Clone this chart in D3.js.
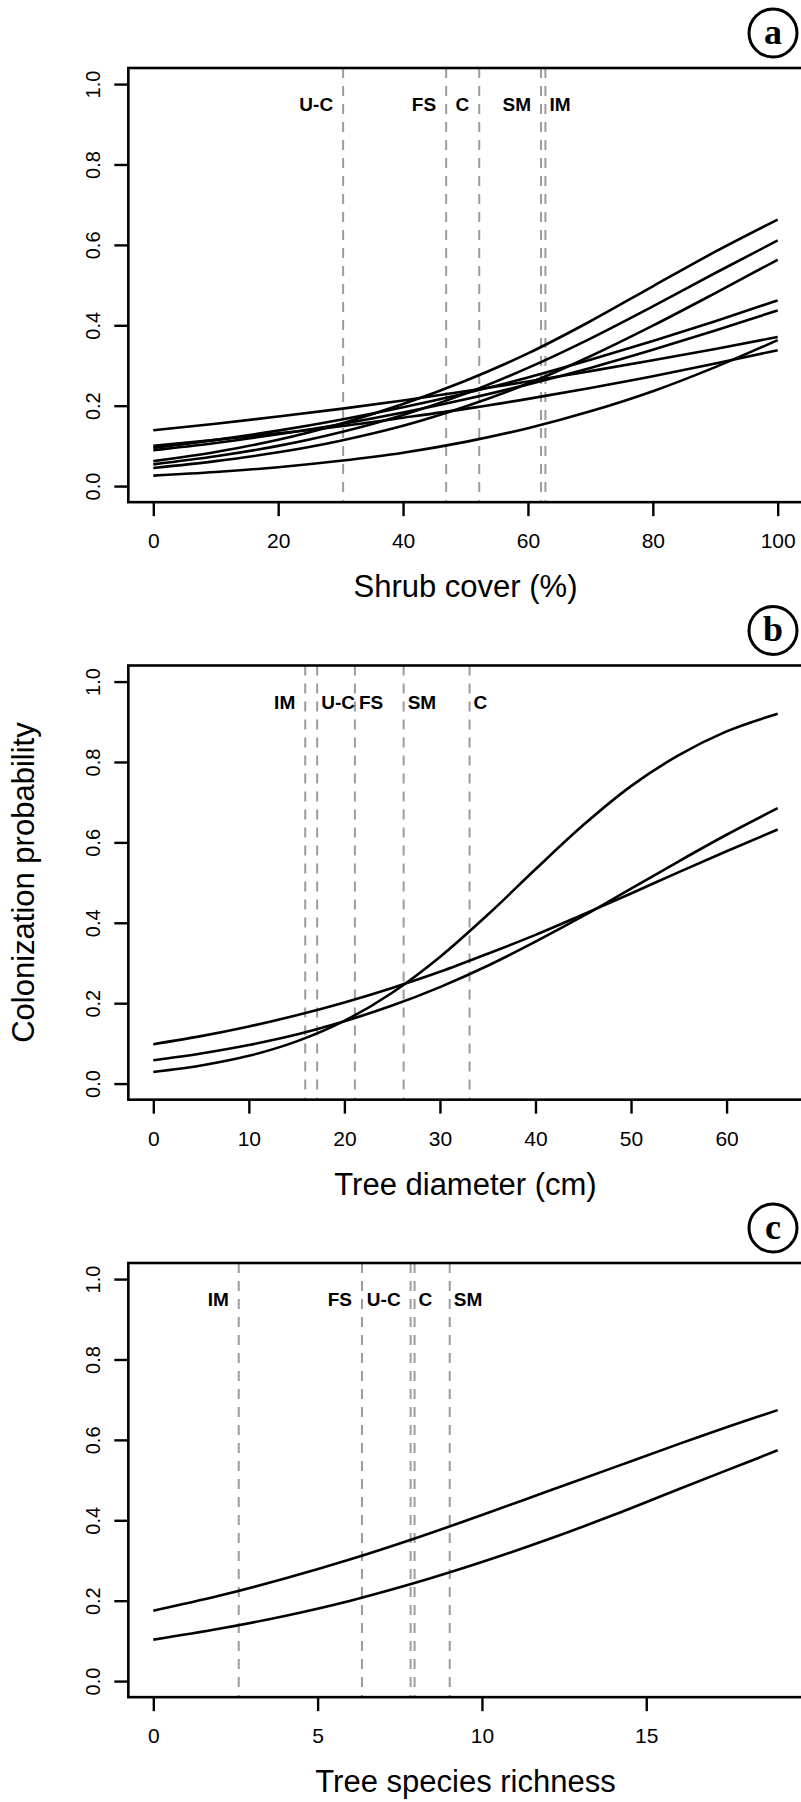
<!DOCTYPE html>
<html lang="en">
<head>
    <meta charset="UTF-8">
    <title>Colonization probability</title>
    <style type="text/css">
        body { margin: 0; background: white; }
        svg { display: block; }
        .tick text { font-family: "Liberation Sans", Arial, sans-serif; font-size: 21px; fill: black; }
        .y-ticks .tick text { font-size: 20px; }
        .guide-label { font-family: "Liberation Sans", Arial, sans-serif; font-size: 19px; font-weight: bold; }
        .axis-title { font-family: "Liberation Sans", Arial, sans-serif; font-size: 31px; }
        .panel-letter { font-family: "Liberation Serif", "Times New Roman", serif; font-size: 36px; font-weight: bold; }
    </style>
</head>
<script src="https://d3js.org/d3.v7.min.js"></script>
<body>
<svg></svg>

<script>
// ---- data ----
// panel a : shrub cover
var shrubTicks = [0, 20, 40, 60, 80, 100];
var shrubX = [0, 10, 20, 30, 40, 50, 60, 70, 80, 90, 100];
var shrubCurves = [
    [0.139, 0.155, 0.173, 0.192, 0.213, 0.236, 0.260, 0.286, 0.313, 0.341, 0.371],
    [0.100, 0.115, 0.131, 0.149, 0.170, 0.192, 0.217, 0.244, 0.273, 0.305, 0.338],
    [0.026, 0.035, 0.047, 0.063, 0.083, 0.110, 0.144, 0.186, 0.236, 0.296, 0.363],
    [0.095, 0.115, 0.138, 0.165, 0.196, 0.231, 0.270, 0.314, 0.361, 0.410, 0.462],
    [0.089, 0.107, 0.129, 0.154, 0.183, 0.216, 0.253, 0.294, 0.339, 0.387, 0.437],
    [0.062, 0.085, 0.115, 0.155, 0.204, 0.262, 0.330, 0.410, 0.497, 0.583, 0.663],
    [0.054, 0.074, 0.100, 0.134, 0.177, 0.230, 0.294, 0.367, 0.447, 0.530, 0.611],
    [0.045, 0.062, 0.084, 0.113, 0.150, 0.198, 0.255, 0.323, 0.399, 0.480, 0.563]
];
var shrubGuides = ["U-C", "FS", "C", "SM", "IM"];
var shrubGuideX = [30.4, 46.9, 52.2, 62.1, 62.8];
var shrubGuideSide = ["left", "left", "left", "left", "right"];

// panel b : tree diameter
var diamTicks = [0, 10, 20, 30, 40, 50, 60];
var diamX = [0, 5, 10, 15, 20, 25, 30, 35, 40, 45, 50, 55, 60, 65.35];
var diamCurves = [
    [0.029, 0.045, 0.069, 0.105, 0.156, 0.226, 0.315, 0.420, 0.533, 0.643, 0.740, 0.817, 0.876, 0.920],
    [0.098, 0.118, 0.142, 0.170, 0.202, 0.238, 0.278, 0.323, 0.370, 0.421, 0.473, 0.526, 0.578, 0.632],
    [0.058, 0.075, 0.096, 0.122, 0.155, 0.194, 0.240, 0.293, 0.353, 0.417, 0.485, 0.553, 0.619, 0.685]
];
var diamGuides = ["IM", "U-C", "FS", "SM", "C"];
var diamGuideX = [15.9, 17.15, 21.1, 26.2, 33.1];
var diamGuideSide = ["left", "right", "right", "right", "right"];

// panel c : tree species richness
var richTicks = [0, 5, 10, 15];
var richX = [0, 2, 4, 6, 8, 10, 12, 14, 16, 18, 19];
var richCurves = [
    [0.175, 0.212, 0.255, 0.303, 0.356, 0.413, 0.472, 0.531, 0.590, 0.647, 0.674],
    [0.103, 0.130, 0.162, 0.200, 0.245, 0.296, 0.352, 0.413, 0.478, 0.542, 0.574]
];
var richGuides = ["IM", "FS", "U-C", "C", "SM"];
var richGuideX = [2.6, 6.35, 7.83, 7.95, 9.02];
var richGuideSide = ["left", "left", "left", "right", "right"];

var probTicks = [0, 0.2, 0.4, 0.6, 0.8, 1.0];

var panels = [
    {letter: "a", title: "Shrub cover (%)", x: shrubX, curves: shrubCurves, ticks: shrubTicks,
     guides: shrubGuides, guideX: shrubGuideX, side: shrubGuideSide},
    {letter: "b", title: "Tree diameter (cm)", x: diamX, curves: diamCurves, ticks: diamTicks,
     guides: diamGuides, guideX: diamGuideX, side: diamGuideSide},
    {letter: "c", title: "Tree species richness", x: richX, curves: richCurves, ticks: richTicks,
     guides: richGuides, guideX: richGuideX, side: richGuideSide}
];

// ---- canvas ----
var svgWidth = 801;
var svgHeight = 1802;
var xLeft = 153.3, xRight = 777.7;     // data range in px (R adds 4% either side)
var boxTop0 = 68, panelStep = 597.5;
var unitH = 402;                        // px for probability 0 -> 1

var svg = d3.select("svg")
    .attr("width", svgWidth)
    .attr("height", svgHeight);

panels.forEach(function(p, i) {
    var boxTop = boxTop0 + i * panelStep;
    var y0 = boxTop + 0.04 * unitH + unitH;
    var xmin = d3.min(p.x), xmax = d3.max(p.x);
    var pad = (xRight - xLeft) * 0.04;

    var xs = d3.scaleLinear().domain([xmin, xmax]).range([xLeft, xRight]);
    var ys = d3.scaleLinear().domain([0, 1]).range([y0, y0 - unitH]);
    var boxBottom = ys(-0.04), boxLeft = xLeft - pad, boxRight = xRight + pad;

    var g = svg.append("g");

    // dashed guide lines
    g.selectAll("line.guide")
        .data(p.guideX)
        .enter()
        .append("line")
        .attr("class", "guide")
        .attr("x1", function(d) { return xs(d); })
        .attr("x2", function(d) { return xs(d); })
        .attr("y1", boxTop)
        .attr("y2", boxBottom)
        .style("stroke", "#9c9c9c")
        .style("stroke-width", 2)
        .style("stroke-dasharray", "10,8");

    g.selectAll("text.guide-label")
        .data(p.guides)
        .enter()
        .append("text")
        .attr("class", "guide-label")
        .attr("x", function(d, j) {
            return p.side[j] == "left" ? xs(p.guideX[j]) - 10 : xs(p.guideX[j]) + 4;
        })
        .attr("y", ys(0.95))
        .attr("dy", "0.36em")
        .attr("text-anchor", function(d, j) { return p.side[j] == "left" ? "end" : "start"; })
        .text(function(d) { return d; });

    // curves
    var line = d3.line()
        .x(function(d, j) { return xs(p.x[j]); })
        .y(function(d) { return ys(d); })
        .curve(d3.curveMonotoneX);

    g.selectAll("path.curve")
        .data(p.curves)
        .enter()
        .append("path")
        .attr("class", "curve")
        .attr("d", line)
        .style("fill", "none")
        .style("stroke", "black")
        .style("stroke-width", 2.6);

    // box
    g.append("rect")
        .attr("x", boxLeft)
        .attr("y", boxTop)
        .attr("width", boxRight - boxLeft)
        .attr("height", boxBottom - boxTop)
        .style("fill", "none")
        .style("stroke", "black")
        .style("stroke-width", 2.6);

    // x axis
    var xAxis = g.append("g")
        .attr("transform", "translate(0," + boxBottom + ")")
        .call(d3.axisBottom(xs).tickValues(p.ticks).tickSize(14).tickPadding(17));
    xAxis.select(".domain").remove();
    xAxis.selectAll(".tick line").style("stroke", "black").style("stroke-width", 2.4);

    // y axis, labels parallel to axis like R
    var yAxis = g.append("g")
        .attr("class", "y-ticks")
        .attr("transform", "translate(" + boxLeft + ",0)")
        .call(d3.axisLeft(ys).tickValues(probTicks).tickSize(14).tickFormat(d3.format(".1f")));
    yAxis.select(".domain").remove();
    yAxis.selectAll(".tick line").style("stroke", "black").style("stroke-width", 2.4);
    yAxis.selectAll(".tick text")
        .attr("x", null)
        .attr("dy", "0.35em")
        .attr("text-anchor", "middle")
        .attr("transform", "translate(" + (93 - boxLeft) + ",0) rotate(-90)");

    // x axis title
    g.append("text")
        .attr("class", "axis-title")
        .attr("x", (xLeft + xRight) / 2)
        .attr("y", boxBottom + 95)
        .attr("text-anchor", "middle")
        .text(p.title);

    // panel letter in a circle
    g.append("circle")
        .attr("cx", 773)
        .attr("cy", boxTop - 35)
        .attr("r", 24)
        .style("fill", "white")
        .style("stroke", "black")
        .style("stroke-width", 3);
    g.append("text")
        .attr("class", "panel-letter")
        .attr("x", 773)
        .attr("y", boxTop - 35)
        .attr("dy", "0.3em")
        .attr("text-anchor", "middle")
        .text(p.letter);
});

// shared y title
svg.append("text")
    .attr("class", "axis-title")
    .attr("transform", "translate(34," + (boxTop0 + panelStep + 0.04 * unitH + unitH / 2) + ") rotate(-90)")
    .attr("text-anchor", "middle")
    .text("Colonization probability");
</script>
</body>
</html>
